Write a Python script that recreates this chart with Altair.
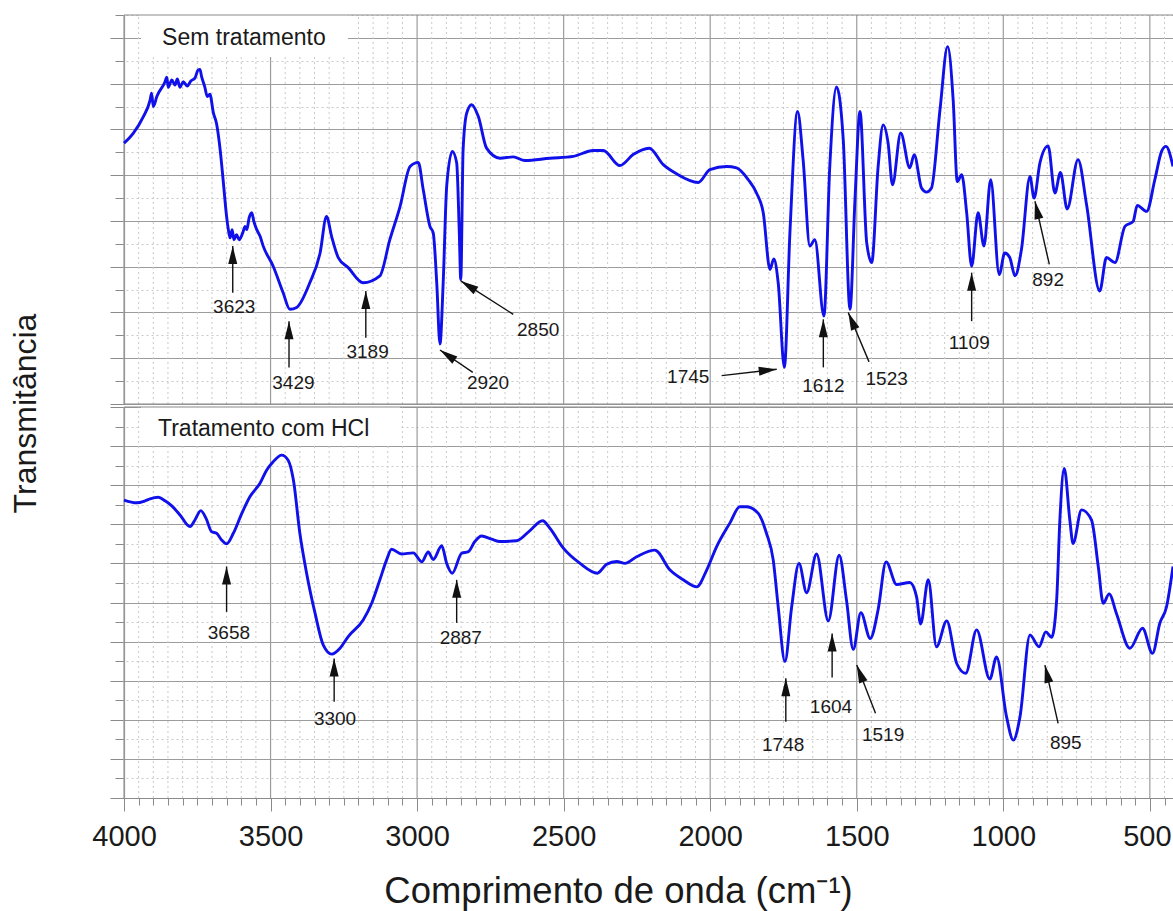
import math
import altair as alt
import pandas as pd

# ---------------- data ----------------
# Top panel: "Sem tratamento"  (wavenumber cm-1, transmittance in arbitrary grid units)
top_wn = [4000, 3968, 3934, 3911, 3906, 3900, 3888, 3860, 3854, 3849, 3837, 3826, 3818, 3809, 3798,
          3784, 3772, 3758, 3747, 3741, 3735, 3724, 3716, 3707, 3695, 3684, 3672, 3661, 3650, 3644,
          3638, 3631, 3625, 3616, 3607, 3595, 3587, 3581, 3573, 3564, 3557, 3547, 3536, 3525, 3491,
          3457, 3434, 3411, 3366, 3331, 3309, 3292, 3269, 3235, 3184, 3127, 3093, 3058, 3024, 2996,
          2979, 2956, 2945, 2933, 2922, 2911, 2899, 2880, 2865, 2856, 2851, 2843, 2831, 2814, 2791,
          2763, 2717, 2672, 2632, 2547, 2467, 2399, 2365, 2308, 2263, 2208, 2160, 2115, 2041, 2001,
          1944, 1910, 1870, 1842, 1819, 1796, 1783, 1768, 1747, 1728, 1702, 1683, 1660, 1643, 1612,
          1592, 1569, 1546, 1523, 1506, 1489, 1466, 1449, 1427, 1410, 1393, 1378, 1350, 1319, 1304,
          1279, 1262, 1245, 1216, 1190, 1171, 1157, 1142, 1125, 1108, 1086, 1066, 1043, 1014, 995,
          978, 960, 938, 909, 895, 875, 847, 824, 805, 782, 745, 716, 671, 648, 619,
          585, 557, 543, 511, 483, 460, 445, 421]
top_t = [5.70, 5.92, 6.28, 6.64, 6.79, 6.50, 6.72, 7.04, 7.14, 6.92, 7.08, 6.97, 7.10, 6.92, 7.04,
         6.95, 7.06, 7.12, 7.30, 7.31, 7.15, 6.92, 6.72, 6.77, 6.36, 6.12, 5.56, 4.84, 4.10, 3.81,
         3.63, 3.81, 3.59, 3.70, 3.59, 3.74, 3.88, 3.81, 4.07, 4.18, 3.99, 3.81, 3.67, 3.45, 3.01,
         2.43, 2.07, 2.11, 2.65, 3.30, 4.10, 3.67, 3.20, 2.98, 2.65, 2.80, 3.59, 4.32, 5.19, 5.28,
         4.68, 3.88, 3.74, 2.65, 1.31, 2.65, 4.76, 5.52, 5.27, 3.74, 2.72, 5.56, 6.35, 6.54, 6.28,
         5.59, 5.37, 5.40, 5.32, 5.37, 5.41, 5.54, 5.54, 5.21, 5.45, 5.59, 5.23, 5.03, 4.84, 5.12,
         5.19, 5.16, 4.90, 4.61, 4.18, 2.94, 3.17, 2.65, 0.80, 3.74, 6.39, 5.34, 3.45, 3.59, 1.92,
         5.19, 6.93, 5.77, 2.07, 4.47, 6.39, 3.52, 3.09, 5.19, 6.10, 5.70, 4.79, 5.92, 5.16, 5.45,
         4.72, 4.63, 4.72, 6.43, 7.81, 6.64, 4.86, 5.01, 4.18, 3.01, 4.18, 3.45, 4.90, 2.83, 3.30,
         3.20, 2.80, 3.38, 4.97, 4.50, 5.27, 5.64, 4.61, 5.06, 4.26, 5.34, 4.36, 2.47, 3.20, 3.09,
         3.88, 3.99, 4.34, 4.21, 4.90, 5.52, 5.63, 5.19]

# Bottom panel: "Tratamento com HCl"
bot_wn = [4000, 3957, 3928, 3911, 3883, 3860, 3837, 3809, 3775, 3758, 3738, 3720, 3701, 3684, 3667,
          3650, 3627, 3598, 3570, 3536, 3513, 3491, 3462, 3440, 3422, 3400, 3377, 3348, 3320, 3291,
          3263, 3235, 3184, 3155, 3127, 3104, 3087, 3053, 3013, 2984, 2962, 2945, 2916, 2899, 2880,
          2848, 2825, 2803, 2780, 2746, 2717, 2660, 2615, 2572, 2547, 2501, 2444, 2385, 2353, 2319,
          2291, 2251, 2189, 2137, 2092, 2046, 2012, 1978, 1933, 1899, 1876, 1836, 1808, 1785, 1768,
          1745, 1722, 1697, 1671, 1637, 1597, 1560, 1535, 1512, 1486, 1454, 1427, 1400, 1364, 1319,
          1296, 1282, 1256, 1228, 1193, 1159, 1128, 1091, 1046, 1023, 989, 966, 943, 909, 878,
          855, 835, 818, 807, 792, 773, 762, 733, 699, 676, 659, 639, 614, 568, 525,
          491, 466, 443, 421]
bot_t = [7.62, 7.55, 7.60, 7.65, 7.69, 7.60, 7.47, 7.24, 6.94, 7.11, 7.35, 7.15, 6.81, 6.77, 6.60,
         6.50, 6.77, 7.28, 7.71, 8.05, 8.39, 8.60, 8.77, 8.64, 8.13, 6.77, 5.75, 4.72, 3.91, 3.68,
         3.83, 4.13, 4.55, 4.98, 5.58, 6.09, 6.36, 6.24, 6.27, 6.04, 6.29, 6.10, 6.45, 6.00, 5.75,
         6.26, 6.30, 6.56, 6.70, 6.62, 6.56, 6.58, 6.84, 7.09, 6.90, 6.39, 6.00, 5.75, 5.98, 6.05,
         6.00, 6.17, 6.34, 5.83, 5.58, 5.40, 5.83, 6.43, 7.03, 7.45, 7.45, 7.28, 6.77, 6.09, 4.89,
         3.49, 4.89, 6.00, 5.25, 6.24, 4.53, 6.21, 5.06, 3.80, 4.74, 4.08, 4.82, 6.04, 5.46, 5.51,
         5.15, 4.45, 5.58, 3.87, 4.53, 3.44, 3.19, 4.30, 3.04, 3.61, 2.08, 1.48, 2.08, 4.17, 3.87,
         4.25, 4.11, 5.06, 7.11, 8.43, 7.11, 6.51, 7.37, 7.11, 5.92, 4.98, 5.22, 4.72, 3.83, 4.34,
         3.70, 4.47, 4.89, 5.92]

# Peak annotations, top panel
top_lab = ["3623", "3429", "3189", "2920", "2850", "1745", "1612", "1523", "1109", "892"]
top_tail_wn = [3629, 3437, 3175, 2810, 2672, 1961, 1614, 1458, 1108, 843]
top_tail_t = [2.43, 0.80, 1.45, 0.69, 1.96, 0.62, 0.80, 0.92, 1.81, 3.05]
top_tip_wn = [3629, 3437, 3175, 2922, 2851, 1773, 1614, 1529, 1108, 892]
top_tip_t = [3.45, 1.81, 2.47, 1.18, 2.69, 0.76, 1.85, 2.00, 2.87, 4.43]
top_lab_wn = [3624, 3422, 3169, 2758, 2587, 2075, 1614, 1398, 1116, 847]
top_lab_t = [2.13, 0.46, 1.13, 0.46, 1.62, 0.60, 0.40, 0.54, 1.33, 2.70]

# Peak annotations, bottom panel
bot_lab = ["3658", "3300", "2887", "1748", "1604", "1519", "895"]
bot_tail_wn = [3650, 3283, 2865, 1742, 1584, 1436, 813]
bot_tail_t = [4.76, 2.46, 4.48, 1.95, 3.08, 2.17, 1.91]
bot_tip_wn = [3650, 3283, 2865, 1742, 1584, 1500, 858]
bot_tip_t = [5.92, 3.57, 5.58, 3.06, 4.21, 3.40, 3.40]
bot_lab_wn = [3642, 3280, 2851, 1751, 1588, 1410, 787]
bot_lab_t = [4.21, 2.01, 4.08, 1.36, 2.34, 1.61, 1.40]

panel_titles = ["Sem tratamento", "Tratamento com HCl"]

# ---------------- styling / layout ----------------
W = 1049
H_TOP = 389          # top panel height (px)
GAP = 3              # gap between the two panel frames
H_BOT = 391          # bottom panel height (px)
H = H_TOP + GAP + H_BOT
X_LO, X_HI = 421, 4000
Y_TOP_MAX = 8.5
Y_BOT_MAX = 10.0

FONT = "Liberation Sans"
GRID_MAJOR = "#9c9c9c"
GRID_MINOR = "#c9c9c9"
AXIS_C = "#8a8a8a"
LINE_C = "#1010ea"
TXT_C = "#1a1a1a"

x_ticks = list(range(450, 4001, 50))
x_major_ticks = [v for v in x_ticks if v % 500 == 0]
x_minor_ticks = [v for v in x_ticks if v % 500 != 0]
x_major = "datum.value % 500 === 0"
y_major = "datum.value % 1 === 0"

xscale = alt.Scale(domain=[X_LO, X_HI], reverse=True, nice=False, zero=False)


def grid_props(test):
    return dict(
        grid=True,
        gridColor={"condition": {"test": test, "value": GRID_MAJOR}, "value": GRID_MINOR},
        gridDash={"condition": {"test": test, "value": []}, "value": [2, 3]},
        gridWidth={"condition": {"test": test, "value": 1.2}, "value": 1},
    )


x_axis_top = alt.Axis(orient="top", values=x_ticks, labels=False, ticks=False, domain=False,
                      grid=False, title="")
x_axis_bot = alt.Axis(
    orient="bottom", values=x_ticks, labels=True, ticks=True, domain=True, domainColor=AXIS_C,
    domainWidth=1.2, tickColor=AXIS_C, tickWidth=1, grid=False,
    tickSize={"condition": {"test": x_major, "value": 13}, "value": 7},
    labelExpr="datum.value % 500 === 0 ? format(datum.value, 'd') : ''",
    labelOffset={"condition": {"test": "datum.value === 500", "value": -3}, "value": 0},
    labelFont=FONT, labelFontSize=29, labelColor=TXT_C, labelPadding=11,
    labelOverlap=False, labelFlush=False,
    title="Comprimento de onda (cm⁻¹)", titleFont=FONT, titleFontSize=36.5,
    titleFontWeight="normal", titleColor=TXT_C, titleX=494, titleY=104,
    titleAlign="center", titleBaseline="alphabetic", titleAngle=0)


def y_axis(vals, title):
    kw = dict(orient="left", values=vals, labels=False, ticks=True, domain=True,
              domainColor=AXIS_C, domainWidth=1.2, tickColor=AXIS_C, tickWidth=1,
              tickSize={"condition": {"test": y_major, "value": 14}, "value": 9},
              **grid_props(y_major))
    if title:
        kw.update(title=title, titleFont=FONT, titleFontSize=32, titleFontWeight="normal",
                  titleColor=TXT_C, titleX=-99, titleY=398, titleAngle=270,
                  titleAlign="center", titleBaseline="middle")
    else:
        kw.update(title="")
    return alt.Axis(**kw)


ARROW_PATH = "M0,0L0.25,1L-0.25,1Z"


def panel(wn, t, labs, tail_wn, tail_t, tip_wn, tip_t, lab_wn, lab_t, title, box, title_pos,
          ymax, y_range, yax, xax, edges):
    yscale = alt.Scale(domain=[0, ymax], range=y_range, nice=False, zero=False)
    kx = W / (X_HI - X_LO)
    ky = abs(y_range[0] - y_range[1]) / ymax

    X = lambda f: alt.X(f, type="quantitative", scale=xscale, axis=xax)
    Y = lambda f: alt.Y(f, type="quantitative", scale=yscale, axis=yax)

    # vertical grid of this panel (at the x tick values)
    gmaj = pd.DataFrame({"g": x_major_ticks, "y0": 0.0, "y1": ymax})
    gmin = pd.DataFrame({"g": x_minor_ticks, "y0": 0.0, "y1": ymax})
    grid_major = alt.Chart(gmaj).mark_rule(color=GRID_MAJOR, strokeWidth=1.2).encode(
        x=X("g"), y=Y("y0"), y2="y1:Q")
    grid_minor = alt.Chart(gmin).mark_rule(color=GRID_MINOR, strokeWidth=1,
                                           strokeDash=[2, 3]).encode(
        x=X("g"), y=Y("y0"), y2="y1:Q")

    spec = pd.DataFrame({"wn": wn, "t": t})
    line = alt.Chart(spec).mark_line(color=LINE_C, strokeWidth=2.9, interpolate="monotone").encode(
        x=X("wn"), y=Y("t"), order="idx:Q").transform_window(idx="row_number()")

    angs = []
    for a, b, c, d in zip(tail_wn, tail_t, tip_wn, tip_t):
        dx = (a - c) * kx
        dy = -(d - b) * ky
        angs.append(math.degrees(math.atan2(dx, -dy)) % 360)
    ann = pd.DataFrame({"lab": labs, "x1": tail_wn, "y1": tail_t, "x2": tip_wn, "y2": tip_t,
                        "lx": lab_wn, "ly": lab_t, "ang": angs})
    rules = alt.Chart(ann).mark_rule(color="#111111", strokeWidth=1.4).encode(
        x=X("x1"), y=Y("y1"), x2="x2:Q", y2="y2:Q")
    heads = alt.Chart(ann).mark_point(shape=ARROW_PATH, filled=True, color="#111111",
                                      size=1296, opacity=1).encode(
        x=X("x2"), y=Y("y2"), angle=alt.Angle("ang:Q", scale=None))
    texts = alt.Chart(ann).mark_text(font=FONT, fontSize=19, color=TXT_C, align="center",
                                     baseline="middle").encode(
        x=X("lx"), y=Y("ly"), text="lab:N")

    bx = pd.DataFrame({"xa": [box[0]], "xb": [box[1]], "ya": [box[2]], "yb": [box[3]]})
    rect = alt.Chart(bx).mark_rect(color="white", opacity=1).encode(
        x=X("xa"), x2="xb:Q", y=Y("ya"), y2="yb:Q")
    tt = pd.DataFrame({"x": [title_pos[0]], "y": [title_pos[1]], "s": [title]})
    ttxt = alt.Chart(tt).mark_text(font=FONT, fontSize=23, color=TXT_C, align="left",
                                   baseline="alphabetic").encode(
        x=X("x"), y=Y("y"), text="s:N")

    # horizontal frame edges of the panel
    ed = pd.DataFrame({"xa": [X_HI] * len(edges), "xb": [X_LO] * len(edges), "y": edges})
    edge = alt.Chart(ed).mark_rule(color=AXIS_C, strokeWidth=1.2).encode(
        x=X("xa"), x2="xb:Q", y=Y("y"))

    return alt.layer(grid_minor, grid_major, rect, line, rules, heads, texts, ttxt, edge)


top = panel(top_wn, top_t, top_lab, top_tail_wn, top_tail_t, top_tip_wn, top_tip_t,
            top_lab_wn, top_lab_t, panel_titles[0], (3942, 3236, 7.58, Y_TOP_MAX),
            (3870, 7.85), Y_TOP_MAX, [H_TOP, 0],
            y_axis([i * 0.5 for i in range(0, 18)], "Transmitância"), x_axis_top,
            [0, Y_TOP_MAX])
bottom = panel(bot_wn, bot_t, bot_lab, bot_tail_wn, bot_tail_t, bot_tip_wn, bot_tip_t,
               bot_lab_wn, bot_lab_t, panel_titles[1], (3942, 3058, 9.02, Y_BOT_MAX),
               (3884, 9.26), Y_BOT_MAX, [H, H_TOP + GAP],
               y_axis([i * 0.5 for i in range(0, 21)], ""), x_axis_bot,
               [Y_BOT_MAX])

chart = alt.layer(top, bottom).resolve_scale(y="independent").resolve_axis(
    x="independent", y="independent").properties(
    width=W, height=H,
    autosize=alt.AutoSizeParams(type="none"),
    padding={"left": 124, "top": 15, "right": 0, "bottom": 113},
    background="white",
).configure_view(stroke="transparent")

chart.save("out.html", embed_options={"renderer": "svg", "actions": False})
